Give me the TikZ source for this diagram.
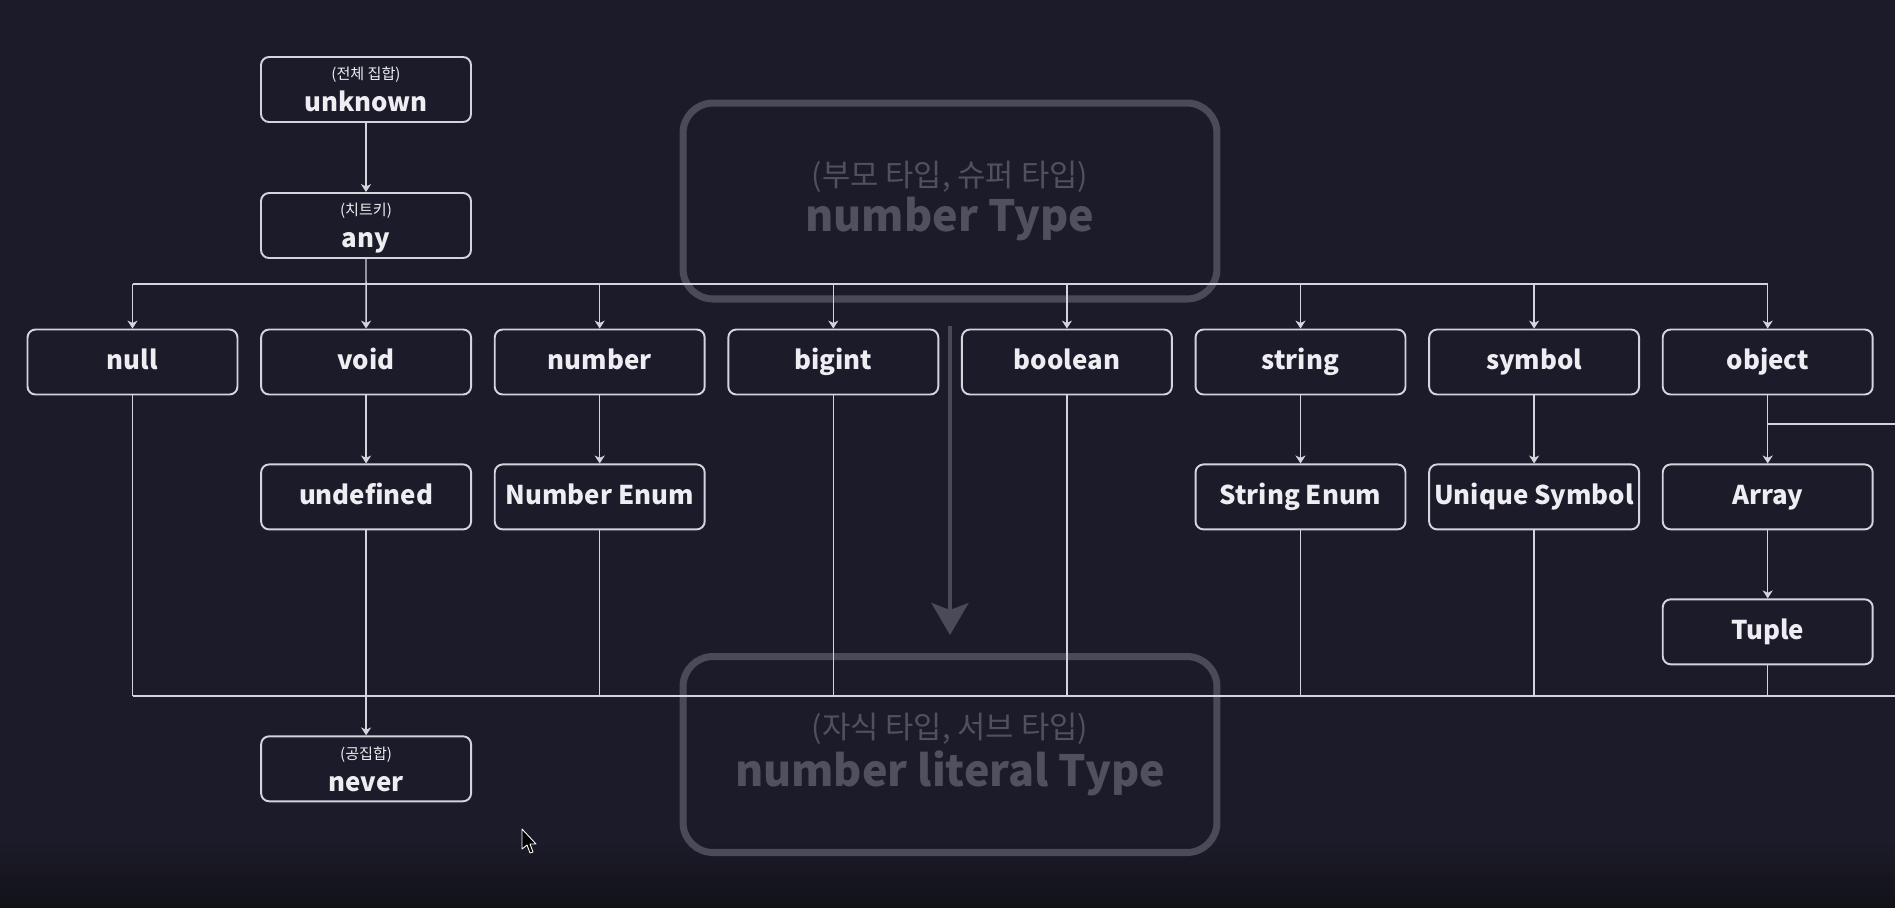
\documentclass[tikz,border=0pt]{standalone}
\usepackage{fontspec}
\setmainfont{Noto Sans CJK KR}
\usepackage{xcolor}
\usepackage{tikz}
\usetikzlibrary{arrows.meta,positioning}

\definecolor{bgnavy}{HTML}{1C1B29}
\definecolor{bgdark}{HTML}{121219}
\definecolor{boxline}{HTML}{D4D4DC}
\definecolor{boxtext}{HTML}{EDEDF2}
\definecolor{ghost}{HTML}{4A4A58}
\definecolor{ghosttext}{HTML}{50505E}

\newcommand{\capkr}{\fontsize{8.6}{10}\selectfont\mdseries}
\newcommand{\ghostkr}{\fontsize{17.5}{20}\selectfont\mdseries}
\newcommand{\typefont}{\fontsize{14.7}{17.6}\selectfont\bfseries}

\tikzset{
    typebox/.style={draw=boxline, line width=1.1pt, rounded corners=0.16cm, fill=bgnavy,
        minimum width=4.2cm, minimum height=1.3cm, inner sep=0pt,
        text height=11.5pt, text depth=2.5pt,
        text=boxtext, font=\typefont, align=center},
    capbox/.style={typebox, text height={}, text depth=0pt},
    ghostbox/.style={draw=ghost, line width=4pt, rounded corners=0.6cm,
        minimum width=10.68cm, minimum height=3.92cm,
        text=ghosttext, font=\fontsize{24.5}{28}\selectfont\bfseries, align=center},
    link/.style={draw=boxline, line width=0.8pt},
    arrowlink/.style={link, -{Stealth[length=4.5pt, width=5.7pt, inset=1.3pt]}}
}

\begin{document}
\begin{tikzpicture}[x=0.02cm, y=-0.02cm]
    % Background
    \fill[bgnavy] (0,0) rectangle (1895,907);
    \shade[top color=bgnavy, bottom color=bgdark] (0,840) rectangle (1895,907);
    \useasboundingbox (0,0) rectangle (1895,907);

    % Faded overlay
    \node[ghostbox] (supertype) at (950,201) {{\ghostkr (부모 타입, 슈퍼 타입)}\\[-2pt]number Type};
    \node[ghostbox] (subtype) at (950,754.5) {{\ghostkr (자식 타입, 서브 타입)}\\[-0.3pt]number literal Type};
    \coordinate (dropstart) at (950,326);
    \coordinate (dropend) at (950,635);
    \draw[ghost, line width=0.08cm, -{Stealth[length=0.64cm, width=0.74cm, inset=0.14cm]}] (dropstart) -- (dropend);

    % Top of the hierarchy
    \node[capbox] (unknown) at (366,89.5) {{\capkr (전체 집합)}\\[0.5pt]unknown};
    \node[capbox] (any) at (366,225.5) {{\capkr (치트키)}\\[0.5pt]any};

    % First row of types
    \foreach \name [count=\i from 0] in {null, void, number, bigint, boolean, string, symbol, object}
        \node[typebox] (\name) at (132.5+233.6*\i, 362) {\name};

    % Sub types
    \node[typebox, below=1.36cm of void] (undefined) {undefined};
    \node[typebox, below=1.36cm of number] (numenum) {Number Enum};
    \node[typebox, below=1.36cm of string] (strenum) {String Enum};
    \node[typebox, below=1.36cm of symbol] (uniqsym) {Unique Symbol};
    \node[typebox, below=1.36cm of object] (array) {Array};
    \node[typebox, below=1.36cm of array] (tuple) {Tuple};
    \node[capbox, below=4.1cm of undefined] (never) {{\capkr (공집합)}\\[0.5pt]never};

    % Connectors from the top
    \draw[arrowlink] (unknown) -- (any);
    \draw[arrowlink] (any) -- (void);
    \coordinate (topbus) at (0,284);
    \draw[link] (null |- topbus) -- (object |- topbus);
    \foreach \name in {null, number, bigint, boolean, string, symbol, object}
        \draw[arrowlink] (\name |- topbus) -- (\name);

    \foreach \up/\down in {void/undefined, number/numenum, string/strenum, symbol/uniqsym, object/array, array/tuple}
        \draw[arrowlink] (\up) -- (\down);

    % Branch out of object
    \coordinate (objbranch) at (1895,424);
    \draw[link] (object |- objbranch) -- (objbranch);

    % Bottom bus down to never
    \coordinate (lowbus) at (1895,696);
    \draw[link] (null |- lowbus) -- (lowbus);
    \foreach \name in {null, numenum, bigint, boolean, strenum, uniqsym, tuple}
        \draw[link] (\name) -- (\name |- lowbus);
    \draw[arrowlink] (undefined) -- (never);

    % Mouse pointer
    \draw[white, fill=black, line width=0.5pt, line join=round]
        (522,829) -- (522,849) -- (527,845) -- (530,853) -- (533,852) -- (530,844) -- (536,844) -- cycle;
\end{tikzpicture}
\end{document}
